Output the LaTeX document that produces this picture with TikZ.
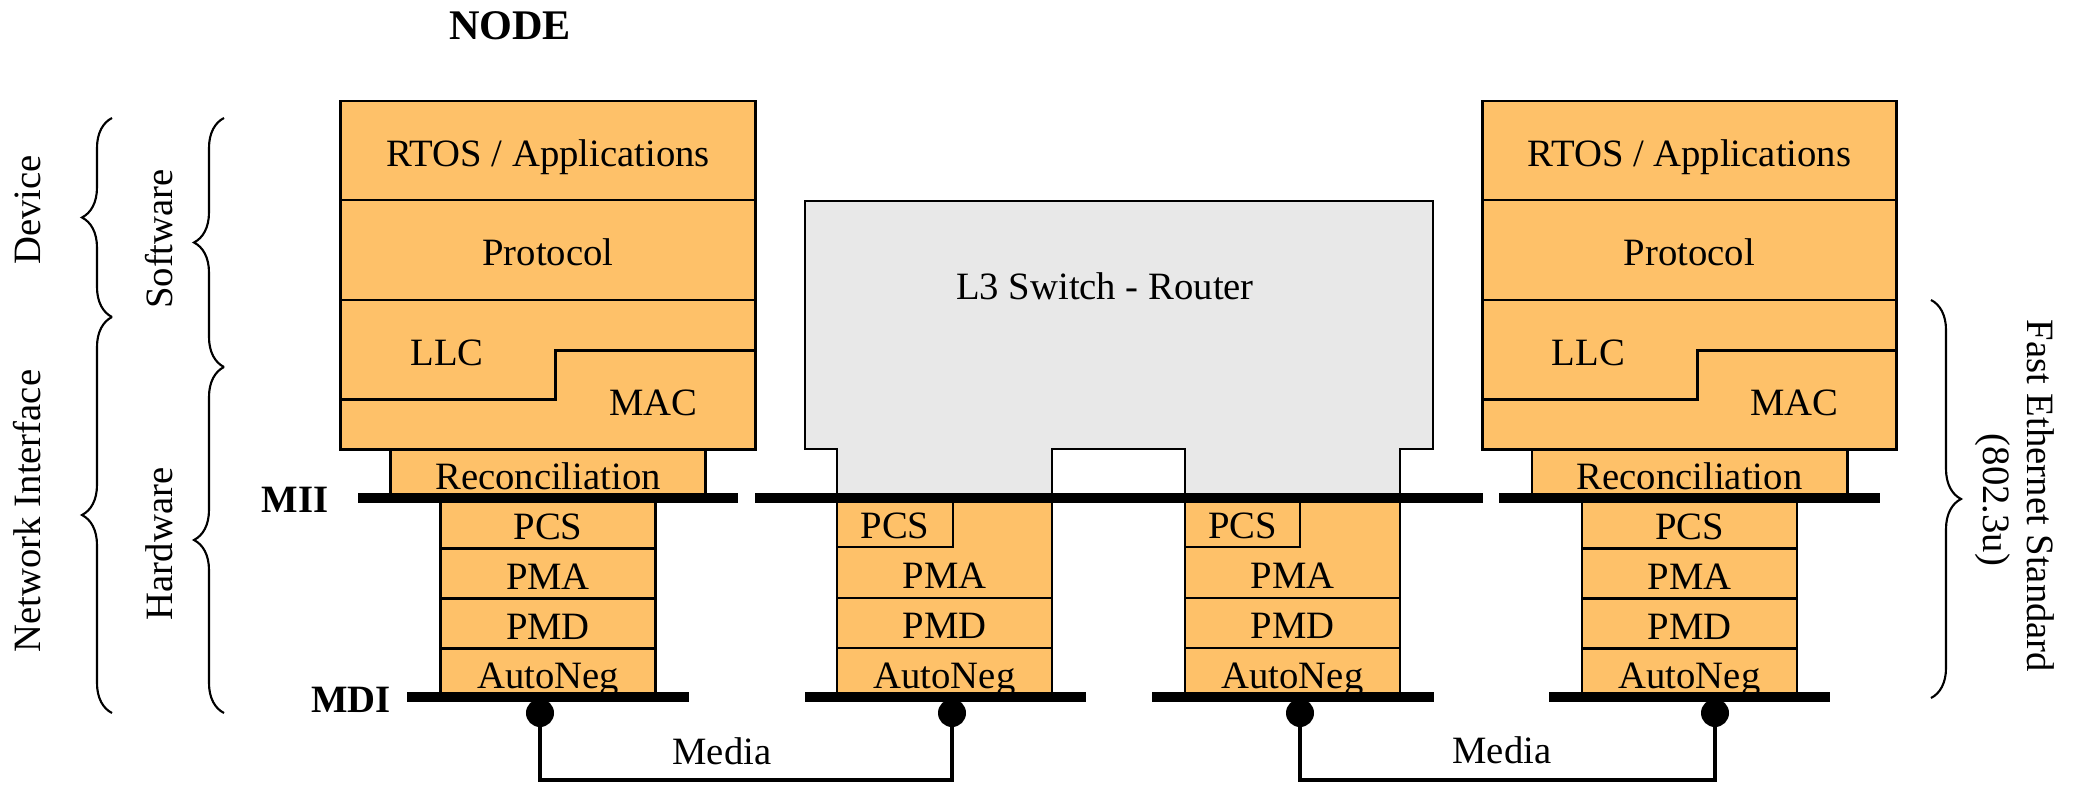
\documentclass[tikz,border=0pt]{standalone}
\usepackage{fontspec}
\setmainfont{Liberation Serif}
\usetikzlibrary{positioning,calc,decorations.pathreplacing}
\definecolor{clayer}{HTML}{FEC169}
\definecolor{cswitch}{HTML}{E8E8E8}
\tikzset{
  layer/.style={rectangle, draw=black, line width=0.8pt, fill=clayer,
    inner sep=0pt, outer sep=0pt, font=\fontsize{11}{13}\selectfont,
    text height=0.9em, text depth=0pt},
  upper/.style={layer, minimum width=4.14cm},
  phy/.style={layer, minimum width=2.15cm, minimum height=0.5cm},
  lbl/.style={inner sep=0pt, font=\fontsize{11}{13}\selectfont,
    text height=0.9em, text depth=0pt},
  blbl/.style={lbl, font=\fontsize{11}{13}\selectfont\bfseries},
  bus/.style={line width=2.6pt},
  media/.style={line width=1.4pt},
  dot/.style={circle, fill=black, inner sep=0pt, minimum size=2.8mm},
  grp/.style={decorate, decoration={brace, amplitude=3mm}, line width=0.6pt},
}

\begin{document}
\begin{tikzpicture}[x=0.01cm, y=-0.01cm]
  \useasboundingbox (0,0) rectangle (2078,785);

  \node[blbl, font=\fontsize{12}{14}\selectfont\bfseries] (title) at (510,24) {NODE};

  % left node
  \node[upper, minimum height=0.99cm] (rtosA) at (548,150.5) {RTOS / Applications};
  \node[upper, minimum height=1cm, below=0pt of rtosA] (protA) {Protocol};
  \node[upper, minimum height=1.49cm, below=0pt of protA] (macA) {};
  \draw[line width=0.8pt] ([yshift=5mm]macA.south west) -- ++(215,0) |- ([yshift=9.9mm]macA.south east);
  \node[lbl] (llcA) at ([xshift=10.6mm, yshift=-5mm]macA.north west) {LLC};
  \node[lbl] (macAl) at ([xshift=31.2mm, yshift=-10mm]macA.north west) {MAC};
  \node[layer, minimum width=3.15cm, minimum height=0.49cm, below=0pt of macA] (recA) {Reconciliation};
  \node[phy, below=0pt of recA] (pcsA) {PCS};
  \node[phy, below=0pt of pcsA] (pmaA) {PMA};
  \node[phy, below=0pt of pmaA] (pmdA) {PMD};
  \node[phy, minimum height=0.49cm, below=0pt of pmdA] (anA) {AutoNeg};

  % right node
  \node[upper, minimum height=0.99cm] (rtosB) at (1689.5,150.5) {RTOS / Applications};
  \node[upper, minimum height=1cm, below=0pt of rtosB] (protB) {Protocol};
  \node[upper, minimum height=1.49cm, below=0pt of protB] (macB) {};
  \draw[line width=0.8pt] ([yshift=5mm]macB.south west) -- ++(215,0) |- ([yshift=9.9mm]macB.south east);
  \node[lbl] (llcB) at ([xshift=10.6mm, yshift=-5mm]macB.north west) {LLC};
  \node[lbl] (macBl) at ([xshift=31.2mm, yshift=-10mm]macB.north west) {MAC};
  \node[layer, minimum width=3.15cm, minimum height=0.49cm, below=0pt of macB] (recB) {Reconciliation};
  \node[phy, below=0pt of recB] (pcsB) {PCS};
  \node[phy, below=0pt of pcsB] (pmaB) {PMA};
  \node[phy, below=0pt of pmaB] (pmdB) {PMD};
  \node[phy, minimum height=0.49cm, below=0pt of pmdB] (anB) {AutoNeg};

  % switch / router
  \draw[line width=0.8pt, fill=cswitch] (805,201) -- (1433,201) -- (1433,449)
    -- (1400,449) -- (1400,498) -- (1185,498) -- (1185,449) -- (1052,449)
    -- (1052,498) -- (837,498) -- (837,449) -- (805,449) -- cycle;
  \node[lbl] (router) at (1105,284) {L3 Switch - Router};

  \node[phy, minimum height=1cm] (pmaC) at (944.5,548) {};
  \node[layer, anchor=north west, minimum width=1.16cm, minimum height=0.49cm] (pcsC) at (pmaC.north west) {PCS};
  \node[lbl] (pmaCl) at ([yshift=2.5mm]pmaC.south) {PMA};
  \node[phy, below=0pt of pmaC] (pmdC) {PMD};
  \node[phy, minimum height=0.49cm, below=0pt of pmdC] (anC) {AutoNeg};

  \node[phy, minimum height=1cm] (pmaD) at (1292.5,548) {};
  \node[layer, anchor=north west, minimum width=1.15cm, minimum height=0.49cm] (pcsD) at (pmaD.north west) {PCS};
  \node[lbl] (pmaDl) at ([yshift=2.5mm]pmaD.south) {PMA};
  \node[phy, below=0pt of pmaD] (pmdD) {PMD};
  \node[phy, minimum height=0.49cm, below=0pt of pmdD] (anD) {AutoNeg};

  % MII and MDI
  \draw[bus] (358,498) -- (738,498);
  \draw[bus] (755,498) -- (1483,498);
  \draw[bus] (1499,498) -- (1880,498);
  \draw[bus] (407,697) -- (689,697);
  \draw[bus] (805,697) -- (1086,697);
  \draw[bus] (1152,697) -- (1434,697);
  \draw[bus] (1549,697) -- (1830,697);
  \node[blbl] (mii) at (295,497) {MII};
  \node[blbl] (mdi) at (351,697) {MDI};

  % media
  \node[dot] (dA) at (540,713) {};
  \node[dot] (dC) at (952,713) {};
  \node[dot] (dD) at (1300,713) {};
  \node[dot] (dB) at (1715,713) {};
  \coordinate (lnkA) at (746,780);
  \coordinate (lnkB) at (1507,780);
  \draw[media] (dA.center) |- (lnkA) -| (dC.center);
  \draw[media] (dD.center) |- (lnkB) -| (dB.center);
  \node[lbl] (medA) at (722,749) {Media};
  \node[lbl] (medB) at (1502,748) {Media};

  % braces
  \draw[grp] (112,317) -- (112,118);
  \draw[grp] (112,713) -- (112,317);
  \draw[grp] (224,367) -- (224,118);
  \draw[grp] (224,713) -- (224,367);
  \draw[grp] (1931,300) -- (1931,698);
  \node[lbl, rotate=90] (dev) at (25,210) {Device};
  \node[lbl, rotate=90] (nif) at (25,511) {Network Interface};
  \node[lbl, rotate=90] (soft) at (157,239) {Software};
  \node[lbl, rotate=90] (hard) at (157,544) {Hardware};
  \node[lbl, rotate=-90] (fes) at (2043,496) {Fast Ethernet Standard};
  \node[lbl, rotate=-90] (std) at (1999,500) {(802.3u)};
\end{tikzpicture}
\end{document}
